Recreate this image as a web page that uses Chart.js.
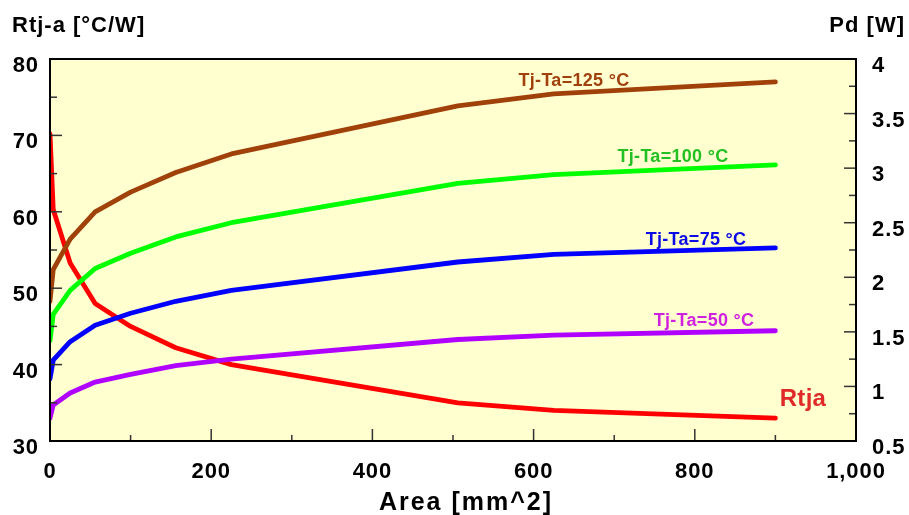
<!DOCTYPE html>
<html>
<head>
<meta charset="utf-8">
<title>Rtj-a and Pd vs Area</title>
<script src="https://cdn.jsdelivr.net/npm/chart.js@4/dist/chart.umd.min.js"></script>
<style>
    html, body { margin: 0; padding: 0; background: #fff; }
    #wrap { width: 909px; height: 515px; position: relative; }
</style>
</head>
<body>
<div id="wrap"><canvas id="thermalChart" width="909" height="515"></canvas></div>
<script>
// Data
const areas = [0, 4, 25, 56, 100, 156, 225, 506, 625, 900];
const rtja = [70.2, 60.3, 53.3, 48.0, 45.0, 42.2, 40.0, 35.0, 34.0, 33.0];
const pd125 = [1.78, 2.07, 2.35, 2.60, 2.78, 2.96, 3.13, 3.57, 3.68, 3.79];
const pd100 = [1.42, 1.66, 1.88, 2.08, 2.22, 2.37, 2.50, 2.86, 2.94, 3.03];
const pd75 = [1.07, 1.24, 1.41, 1.56, 1.67, 1.78, 1.88, 2.14, 2.21, 2.27];
const pd50 = [0.71, 0.83, 0.94, 1.04, 1.11, 1.19, 1.25, 1.43, 1.47, 1.51];

const xTicks = [0, 200, 400, 600, 800, 1000];
const leftTicks = [30, 40, 50, 60, 70, 80];
const rightTicks = [0.5, 1, 1.5, 2, 2.5, 3, 3.5, 4];

const FONT = 'Arial, "Liberation Sans", sans-serif';

const toPoints = (ys) => areas.map((x, i) => ({ x: x, y: ys[i] }));

// Curve labels, placed in pixels like the reference (baseline y)
const curveLabels = [
    { text: 'Tj-Ta=125 °C', color: '#A0410D', x: 574, y: 86, size: 18 },
    { text: 'Tj-Ta=100 °C', color: '#22C022', x: 673, y: 162, size: 18 },
    { text: 'Tj-Ta=75 °C', color: '#0A0AE6', x: 696, y: 245, size: 18 },
    { text: 'Tj-Ta=50 °C', color: '#D020E0', x: 704, y: 326, size: 18 },
    { text: 'Rtja', color: '#E02A2A', x: 803, y: 406, size: 24 }
];

const decorPlugin = {
    id: 'decor',
    beforeDraw(chart) {
        chart.ctx.letterSpacing = '0.9px';
    },
    beforeDatasetsDraw(chart) {
        const { ctx, chartArea: a } = chart;
        ctx.save();
        ctx.fillStyle = 'rgb(255,255,208)';
        ctx.fillRect(a.left, a.top, a.right - a.left, a.bottom - a.top);
        ctx.restore();
    },
    afterDatasetsDraw(chart) {
        const { ctx, chartArea: a, scales } = chart;
        ctx.save();
        // inward tick marks
        ctx.strokeStyle = '#333';
        ctx.lineWidth = 1.5;
        const tick = (x1, y1, x2, y2) => {
            ctx.beginPath();
            ctx.moveTo(x1, y1);
            ctx.lineTo(x2, y2);
            ctx.stroke();
        };
        for (let v = 0; v <= 1000; v += 100) {
            const px = scales.x.getPixelForValue(v);
            const len = v % 200 === 0 ? 12 : 6;
            tick(px, a.bottom, px, a.bottom - len);
        }
        for (let v = 30; v <= 80; v += 5) {
            const py = scales.y.getPixelForValue(v);
            const len = v % 10 === 0 ? 12 : 7;
            tick(a.left, py, a.left + len, py);
        }
        for (let v = 0.5; v <= 4; v += 0.25) {
            const py = scales.y1.getPixelForValue(v);
            const len = Math.abs(v * 2 - Math.round(v * 2)) < 0.01 ? 12 : 7;
            tick(a.right, py, a.right - len, py);
        }
        // frame
        ctx.strokeStyle = '#000';
        ctx.lineWidth = 2;
        ctx.strokeRect(a.left, a.top, a.right - a.left, a.bottom - a.top);

        // curve labels
        ctx.textAlign = 'center';
        ctx.textBaseline = 'alphabetic';
        ctx.letterSpacing = '0.3px';
        curveLabels.forEach(l => {
            ctx.fillStyle = l.color;
            ctx.font = 'bold ' + l.size + 'px ' + FONT;
            ctx.fillText(l.text, l.x, l.y);
        });

        // axis titles
        ctx.fillStyle = '#000';
        ctx.font = 'bold 22px ' + FONT;
        ctx.letterSpacing = '1px';
        ctx.textAlign = 'left';
        ctx.fillText('Rtj-a [°C/W]', 12, 32);
        ctx.textAlign = 'right';
        ctx.fillText('Pd [W]', 905, 32);
        ctx.font = 'bold 25px ' + FONT;
        ctx.letterSpacing = '2px';
        ctx.textAlign = 'center';
        ctx.fillText('Area [mm^2]', 466, 510);
        ctx.restore();
    }
};

const lineSet = (label, data, color, axis) => ({
    label: label,
    data: toPoints(data),
    borderColor: color,
    backgroundColor: color,
    borderWidth: 4.8,
    pointRadius: 0,
    tension: 0,
    borderJoinStyle: 'round',
    borderCapStyle: 'round',
    yAxisID: axis
});

const tickFont = { family: FONT, size: 22, weight: 'bold' };

const ctx = document.getElementById('thermalChart').getContext('2d');
const thermalChart = new Chart(ctx, {
    type: 'line',
    data: {
        datasets: [
            lineSet('Tj-Ta=125 °C', pd125, '#A0410A', 'y1'),
            lineSet('Tj-Ta=100 °C', pd100, '#00FF00', 'y1'),
            lineSet('Tj-Ta=75 °C', pd75, '#0000FF', 'y1'),
            lineSet('Tj-Ta=50 °C', pd50, '#B000FF', 'y1'),
            lineSet('Rtja', rtja, '#FF0000', 'y')
        ]
    },
    options: {
        responsive: false,
        animation: false,
        layout: { padding: { top: 59, left: 0, right: 0, bottom: 0 } },
        plugins: {
            legend: { display: false },
            tooltip: { enabled: false }
        },
        scales: {
            x: {
                type: 'linear',
                min: 0,
                max: 1000,
                afterFit: (s) => { s.height = 74; },
                afterBuildTicks: (s) => { s.ticks = xTicks.map(v => ({ value: v })); },
                grid: { display: false, drawTicks: false },
                border: { display: false },
                ticks: { color: '#000', padding: 18, maxRotation: 0, font: tickFont }
            },
            y: {
                position: 'left',
                min: 30,
                max: 80,
                afterFit: (s) => { s.width = 50; },
                afterBuildTicks: (s) => { s.ticks = leftTicks.map(v => ({ value: v })); },
                grid: { display: false, drawTicks: false },
                border: { display: false },
                ticks: { color: '#000', padding: 11, labelOffset: 7, font: tickFont }
            },
            y1: {
                position: 'right',
                min: 0.5,
                max: 4,
                afterFit: (s) => { s.width = 53; },
                afterBuildTicks: (s) => { s.ticks = rightTicks.map(v => ({ value: v })); },
                grid: { display: false, drawTicks: false },
                border: { display: false },
                ticks: { color: '#000', padding: 16, labelOffset: 7, font: tickFont, callback: (v) => String(v) }
            }
        }
    },
    plugins: [decorPlugin]
});
</script>
</body>
</html>
